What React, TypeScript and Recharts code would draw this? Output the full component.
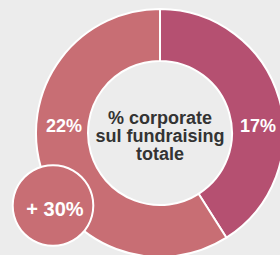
import React from "react";
import { PieChart, Pie, Cell } from "recharts";

const sliceNames = ["corporate-a", "corporate-b"];
const sliceShares = [41, 59];
const sliceLabels = ["17%", "22%"];
const sliceColors = ["#b55071", "#c86e74"];
const centerLines = ["% corporate", "sul fundraising", "totale"];
const badgeLabel = "+ 30%";
const badgeValue = [1];

const FONT = "'Liberation Sans', Arial, Helvetica, sans-serif";

const donutData = sliceNames.map((n, i) => ({ name: n, value: sliceShares[i], label: sliceLabels[i] }));
const badgeData = badgeValue.map((v) => ({ name: "badge", value: v }));

const renderSliceLabel = (props: any) => {
  const { cx, cy, innerRadius, outerRadius, midAngle, index } = props;
  const side = Math.cos((midAngle * Math.PI) / 180) >= 0 ? 1 : -1;
  const r = (innerRadius + outerRadius) / 2 - 1;
  return (
    <g>
      <text
        x={cx + 1 + side * r}
        y={cy - 1.5}
        fill="#ffffff"
        textAnchor="middle"
        fontFamily={FONT}
        fontWeight="bold"
        fontSize={18}
      >
        {sliceLabels[index]}
      </text>
      {index === 0 ? (
        <text textAnchor="middle" fontFamily={FONT} fontWeight="bold" fontSize={18} fill="#333333">
          {centerLines.map((l, i) => (
            <tspan key={i} x={cx} y={cy - 9 + i * 18}>
              {l}
            </tspan>
          ))}
        </text>
      ) : null}
    </g>
  );
};

const renderBadgeLabel = (props: any) => {
  const { cx, cy } = props;
  return (
    <text
      x={cx + 2}
      y={cy + 10}
      textAnchor="middle"
      fontFamily={FONT}
      fontWeight="bold"
      fontSize={20}
      fill="#ffffff"
    >
      {badgeLabel}
    </text>
  );
};

export default function App() {
  return (
    <div style={{ position: "absolute", left: 0, top: 0, width: 280, height: 255, background: "#ececec", overflow: "hidden" }}>
      <PieChart width={280} height={255} margin={{ top: 0, right: 0, bottom: 0, left: 0 }}>
        <Pie
          data={donutData}
          dataKey="value"
          cx={160}
          cy={133}
          innerRadius={72}
          outerRadius={124}
          startAngle={90}
          endAngle={-270}
          stroke="#ffffff"
          strokeWidth={2}
          label={renderSliceLabel}
          labelLine={false}
          isAnimationActive={false}
        >
          {donutData.map((d, i) => (
            <Cell key={d.name} fill={sliceColors[i]} />
          ))}
        </Pie>
        <Pie
          data={badgeData}
          dataKey="value"
          cx={53}
          cy={205.5}
          innerRadius={0}
          outerRadius={41.3}
          stroke="none"
          fill="#ffffff"
          isAnimationActive={false}
        />
        <Pie
          data={badgeData}
          dataKey="value"
          cx={53}
          cy={205.5}
          innerRadius={0}
          outerRadius={39.3}
          stroke="none"
          fill="#c86e74"
          label={renderBadgeLabel}
          labelLine={false}
          isAnimationActive={false}
        />
      </PieChart>
    </div>
  );
}
